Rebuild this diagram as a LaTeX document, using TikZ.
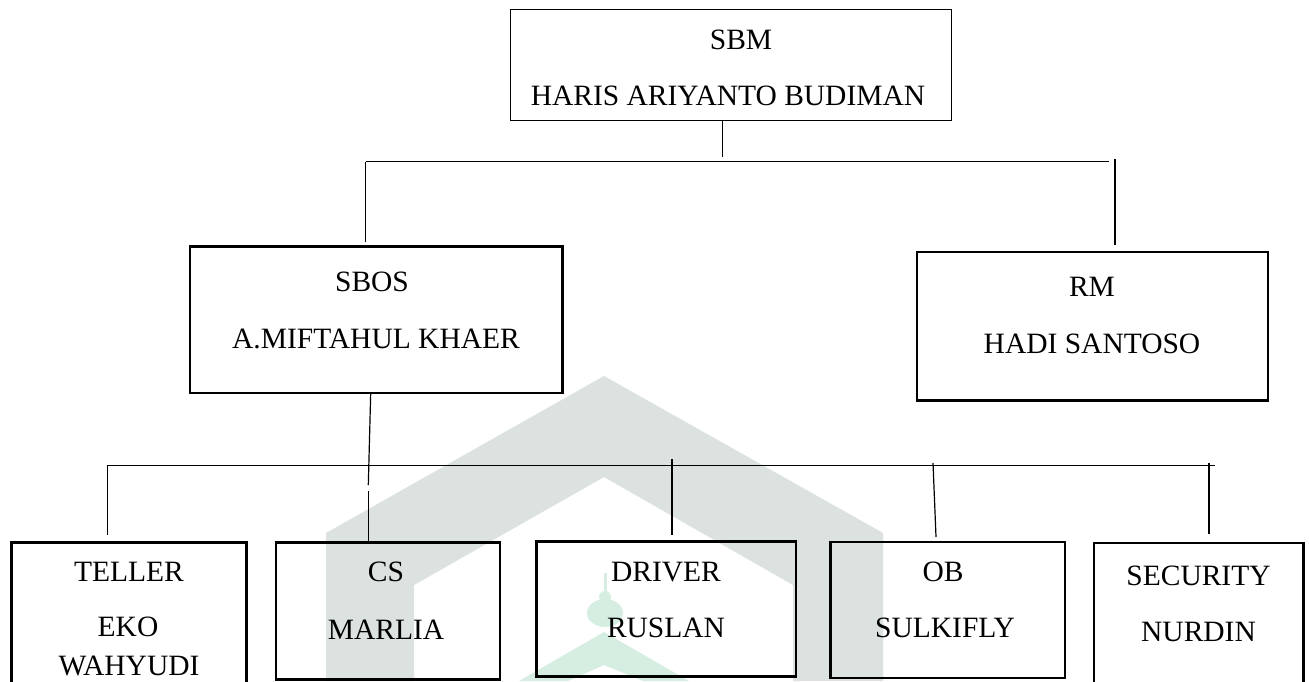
\documentclass[tikz,border=0pt]{standalone}
\usepackage{fontspec}
\setmainfont{Liberation Serif}
\definecolor{wmgrey}{RGB}{220,226,223}
\definecolor{wmgreen}{RGB}{214,238,226}
\begin{document}
\begin{tikzpicture}[x=0.5pt,y=-0.5pt,
  box/.style={draw=black, line width=1.35pt, inner sep=0pt},
  thinbox/.style={draw=black, line width=0.5pt, inner sep=0pt},
  lbl/.style={inner sep=0pt, font=\fontsize{14.75}{17}\selectfont},
  conn/.style={draw=black, line width=0.6pt}]
\useasboundingbox (0,0) rectangle (1309,681);
\clip (0,0) rectangle (1309,681);
\fill[white] (0,0) rectangle (1309,681);
% watermark
\fill[wmgrey] (326,681) -- (326,533) -- (604,376) -- (883,533) -- (883,681) -- (793,681) -- (793,585) -- (604,477) -- (414,585) -- (414,681) -- cycle;
\fill[wmgreen] (519,681) -- (604,632) -- (689,681) -- (643,681) -- (604,665) -- (568,681) -- cycle;
\fill[wmgreen] (605,613) ellipse [x radius=9pt, y radius=7pt];
\fill[wmgreen] (605,597) circle [radius=3pt];
\draw[wmgreen, line width=1.5pt] (605,573) -- (605,596);
% boxes
\node[thinbox, minimum width=220.85pt, minimum height=55.35pt] (sbm) at (730.85,64.65) {};
\node[box, minimum width=186.35pt, minimum height=73.15pt] (sbos) at (376.35,319.85) {};
\node[box, minimum width=175.5pt, minimum height=74.35pt] (rm) at (1092.5,326.35) {};
\node[box, minimum width=117.5pt, minimum height=78.65pt] (teller) at (129.2,621.35) {};
\node[box, minimum width=112pt, minimum height=68.3pt] (cs) at (388,611) {};
\node[box, minimum width=129.7pt, minimum height=67.5pt] (driver) at (666.3,609.2) {};
\node[box, minimum width=117.15pt, minimum height=68pt] (ob) at (947.85,610) {};
\node[box, minimum width=104.8pt, minimum height=78.5pt] (security) at (1198.8,621.5) {};
% labels
\node[lbl] (sbmA) at (741,39.5) {SBM};
\node[lbl] (sbmB) at (728,96) {HARIS ARIYANTO BUDIMAN};
\node[lbl] (sbosA) at (372,282) {SBOS};
\node[lbl] (sbosB) at (376,339) {A.MIFTAHUL KHAER};
\node[lbl] (rmA) at (1092,287) {RM};
\node[lbl] (rmB) at (1092,344) {HADI SANTOSO};
\node[lbl] (tellerA) at (129,571.7) {TELLER};
\node[lbl] (tellerB) at (128,627) {EKO};
\node[lbl] (tellerC) at (129,665.5) {WAHYUDI};
\node[lbl] (csA) at (386,571.7) {CS};
\node[lbl] (csB) at (386,630) {MARLIA};
\node[lbl] (driverA) at (666,571.7) {DRIVER};
\node[lbl] (driverB) at (666,628) {RUSLAN};
\node[lbl] (obA) at (943,571.7) {OB};
\node[lbl] (obB) at (945,628) {SULKIFLY};
\node[lbl] (securityA) at (1198.5,575.8) {SECURITY};
\node[lbl] (securityB) at (1198.5,631.7) {NURDIN};
% connector points
\coordinate (sbmDrop) at (722.3,156.7);
\coordinate (busTopL) at (365.7,161.7);
\coordinate (busTopR) at (1109,161.7);
\coordinate (sbosUp) at (365.7,241.7);
\coordinate (rmUpT) at (1115,159);
\coordinate (rmUp) at (1115,245);
\coordinate (busBotL) at (107.3,465.7);
\coordinate (busBotR) at (1214.5,465.7);
\coordinate (tellerUp) at (107.3,535);
\coordinate (driverUpT) at (672,459);
\coordinate (driverUp) at (672,535);
\coordinate (obUpT) at (933,463);
\coordinate (obUp) at (936,537);
\coordinate (secUpT) at (1209,463);
\coordinate (secUp) at (1209,534);
\coordinate (sbosDownA) at (370.7,393);
\coordinate (sbosDownB) at (368.3,485);
\coordinate (csUpT) at (368.7,491);
% connectors
\draw[conn] (sbmDrop |- sbm.south) -- (sbmDrop);
\draw[conn] (busTopL) -- (busTopR);
\draw[conn] (busTopL) -- (sbosUp);
\draw[conn] (rmUpT) -- (rmUp);
\draw[conn] (busBotL) -- (busBotR);
\draw[conn] (busBotL) -- (tellerUp);
\draw[conn] (driverUpT) -- (driverUp);
\draw[conn] (obUpT) -- (obUp);
\draw[conn] (secUpT) -- (secUp);
\draw[conn] (sbosDownA) -- (sbosDownB);
\draw[conn] (csUpT) -- (csUpT |- cs.north);
\end{tikzpicture}
\end{document}
